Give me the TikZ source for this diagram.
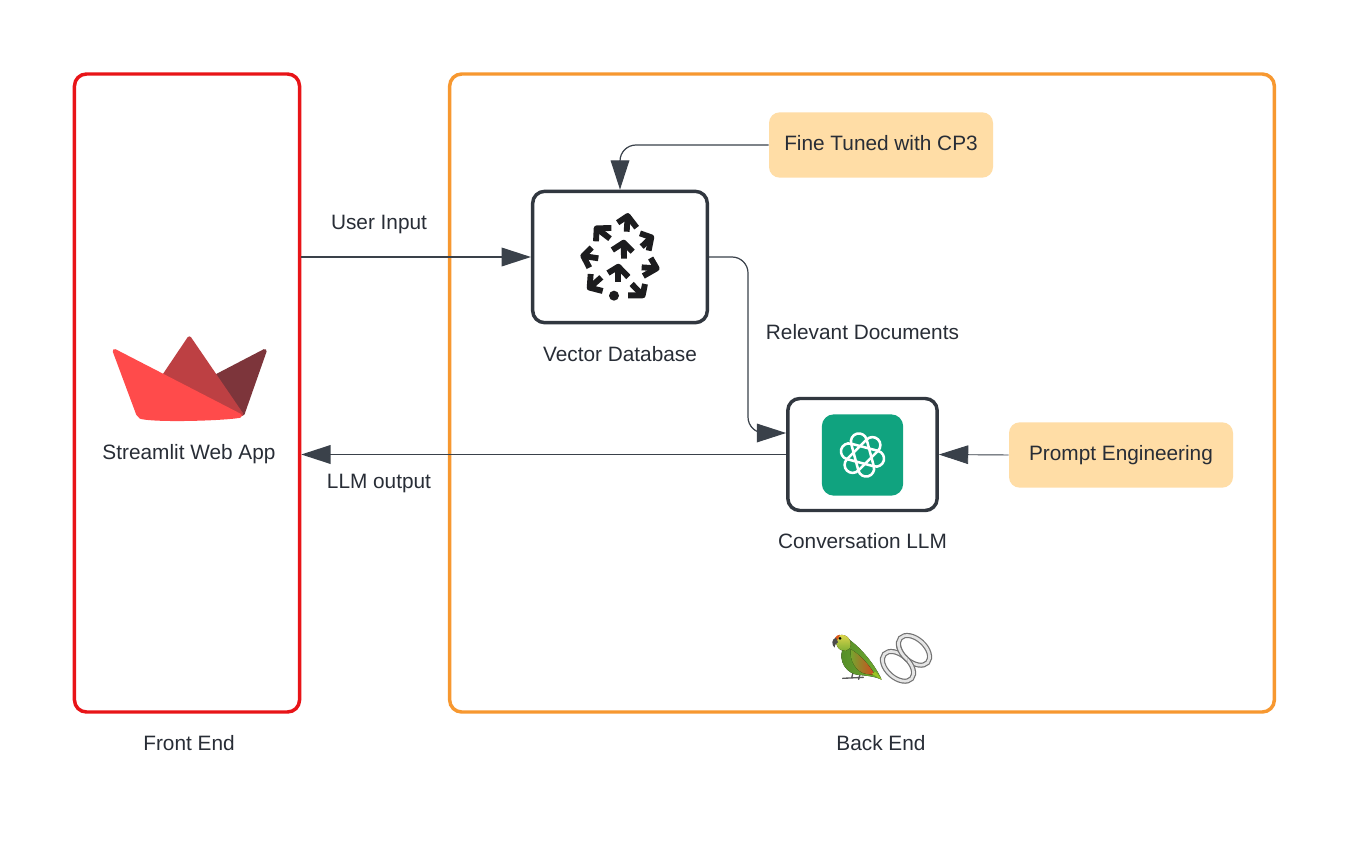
\documentclass[tikz,border=0pt]{standalone}
\usepackage{fontspec}
\setmainfont{Liberation Sans}
\usepackage{xcolor}
\usetikzlibrary{positioning, arrows.meta}
\definecolor{LnInk}{RGB}{58,65,74}
\definecolor{LnText}{RGB}{40,45,54}
\definecolor{LnRed}{RGB}{232,20,24}
\definecolor{LnOrange}{RGB}{247,152,48}
\definecolor{LnPeach}{RGB}{255,221,166}
\definecolor{LnTeal}{RGB}{16,163,127}
\definecolor{BoatLight}{RGB}{255,75,75}
\definecolor{BoatMid}{RGB}{189,64,67}
\definecolor{BoatDark}{RGB}{125,53,59}
\definecolor{ChromaInk}{RGB}{28,28,30}
\definecolor{BirdGreen}{RGB}{112,170,48}
\definecolor{BirdLeaf}{RGB}{84,140,40}
\definecolor{BirdYellow}{RGB}{238,220,80}
\definecolor{BirdRed}{RGB}{214,70,30}
\begin{document}
\begin{tikzpicture}[
          x=0.75pt, y=-0.75pt,
          txt/.style={font=\fontsize{15.6}{18}\selectfont, text=LnText, inner sep=0pt, align=center,
                      text height=11pt, text depth=0pt},
          frame/.style={rectangle, rounded corners=9pt, line width=2.6pt, fill=white, inner sep=0pt},
          iconbox/.style={frame, draw=LnInk!85!black},
          note/.style={rectangle, rounded corners=8pt, fill=LnPeach, minimum width=168pt,
                       minimum height=49pt, font=\fontsize{15.6}{18}\selectfont, text=LnText,
                       text height=11pt, text depth=3pt},
          arr/.style={-{Triangle[length=22pt, width=14pt]}, LnInk, line width=1.1pt},
          chev/.style={ChromaInk, line width=4.4pt, line join=round}
        ]
        \useasboundingbox (0,0) rectangle (1350,853);
        \fill[white] (0,0) rectangle (1350,853);

        \node[frame, draw=LnRed, minimum width=168.8pt, minimum height=478.5pt] (front) at (187,393) {};
        \node[frame, draw=LnOrange, minimum width=618.5pt, minimum height=478.5pt] (back) at (862,393) {};
        \node[iconbox, minimum width=131pt, minimum height=98.5pt] (vdb) at (620,257) {};
        \node[iconbox, minimum width=112pt, minimum height=84pt] (llm) at (862.5,454.5) {};
        \node[note] (tune) at (881,145) {Fine Tuned with CP3};
        \node[note] (prompt) at (1121,455) {Prompt Engineering};
        \node[rectangle, rounded corners=9pt, fill=LnTeal, minimum width=61pt, minimum height=61pt,
              inner sep=0pt] (gpt) at (862.5,455) {};

        \node[txt] (appname) at (189,452) {Streamlit Web App};
        \node[txt] (fronttxt) at (189,743) {Front End};
        \node[txt] (backtxt) at (881,743) {Back End};
        \node[txt] (vdbtxt) at (620,354) {Vector Database};
        \node[txt] (llmtxt) at (862.5,541) {Conversation LLM};
        \node[txt] (usertxt) at (379,222) {User Input};
        \node[txt] (outtxt) at (379,481) {LLM output};
        \node[txt] (doctxt) at (862.5,332) {Relevant Documents};

        \coordinate (docbend) at (748,433);
        \draw[arr] (front.east |- vdb.west) -- (vdb.west);
        \draw[arr] (llm.west) -- (front.east |- llm.west);
        \draw[arr, line width=0.7pt] (prompt.west) -- (llm.east);
        \draw[arr, line width=0.9pt, rounded corners=12pt] (tune.west) -| (vdb.north);
        \draw[arr, line width=0.9pt, rounded corners=12pt] (vdb.east) -| (docbend) -- (llm.west |- docbend);

        % Streamlit boat
        \begin{scope}[shift={(100,325)}, x=0.25pt, y=-0.25pt, line join=round]
          \fill[BoatDark, draw=BoatDark, line width=3pt] (352,152) -- (494,78) -- (428,266) -- cycle;
          \fill[BoatMid, draw=BoatMid, line width=3pt] (194,150) -- (268,40) -- (424,268) -- cycle;
          \fill[BoatLight, draw=BoatLight, line width=3pt] (44,78) -- (420,272)
                .. controls (390,280) and (180,288) .. (123,276) -- (114,266) -- cycle;
        \end{scope}

        % Chroma arrows
        \begin{scope}[shift={(530,180)}, x=0.25pt, y=-0.25pt]
          \foreach \ax/\ay/\tx/\ty/\bx/\by/\sx/\sy in {
              263/128/293/108/320/143/290/155,
              330/160/364/172/356/212/335/200,
              362/234/380/265/340/288/335/262,
              345/312/338/346/294/346/305/312,
              218/333/179/323/182/282/214/292,
              185/203/160/228/178/263/205/235,
              198/184/200/145/244/144/240/176,
              247/210/281/188/308/215/282/236,
              234/279/265/260/295/291/265/305}
            {
              \draw[chev] (\ax,\ay) -- (\tx,\ty) -- (\bx,\by);
              \draw[chev] (\tx,\ty) -- (\sx,\sy);
            }
          \fill[ChromaInk] (252,347) circle (15);
        \end{scope}

        % OpenAI knot
        \begin{scope}[shift={(862.5,455)}]
          \foreach \a in {15,75,135,195,255,315} {
            \draw[white, line width=1.9pt, rotate=\a]
                  (-8,5) -- (-8,-14) arc[start angle=180, end angle=360, radius=8] -- (8,-4);
          }
        \end{scope}

        % Parrot and chain
        \begin{scope}[shift={(820,625)}, x=0.25pt, y=-0.25pt, line cap=round]
          \draw[black!65, line width=1pt] (68,160) -- (130,157) (100,138) -- (95,159) (122,140) -- (116,163);
          \fill[left color=BirdLeaf, right color=BirdGreen]
                (72,65) .. controls (55,90) and (65,135) .. (105,148)
                .. controls (130,152) and (160,152) .. (185,164)
                .. controls (165,120) and (125,70) .. (85,42) -- cycle;
          \fill[left color=BirdGreen, right color=BirdRed]
                (92,72) .. controls (88,110) and (110,140) .. (135,146)
                -- (165,150) .. controls (145,115) and (120,90) .. (92,72) -- cycle;
          \fill[BirdGreen!70!yellow] (155,146) -- (185,164) -- (167,140) -- cycle;
          \fill[top color=BirdYellow, bottom color=BirdGreen]
                (44,42) .. controls (58,20) and (92,28) .. (92,60)
                .. controls (90,80) and (65,85) .. (52,65) -- cycle;
          \fill[BirdRed!80!orange] (44,40) .. controls (48,32) and (54,30) .. (60,29) -- (52,46) -- cycle;
          \fill[black!70] (48,38) .. controls (34,42) and (34,60) .. (44,68)
                .. controls (44,58) and (50,54) .. (54,52) -- cycle;
          \fill[black] (60,40) circle (4.5);
          % links
          \foreach \px/\py in {282/76, 234/124} {
            \draw[black!55, line width=3.8pt, rotate around={-42:(\px,\py)}] (\px,\py) ellipse (55 and 34);
            \draw[black!10, line width=2pt, rotate around={-42:(\px,\py)}] (\px,\py) ellipse (55 and 34);
          }
          \begin{scope}
            \clip (222,62) rectangle (262,108);
            \draw[black!55, line width=3.8pt, rotate around={-42:(282,76)}] (282,76) ellipse (55 and 34);
            \draw[black!10, line width=2pt, rotate around={-42:(282,76)}] (282,76) ellipse (55 and 34);
          \end{scope}
        \end{scope}
      \end{tikzpicture}
\end{document}
